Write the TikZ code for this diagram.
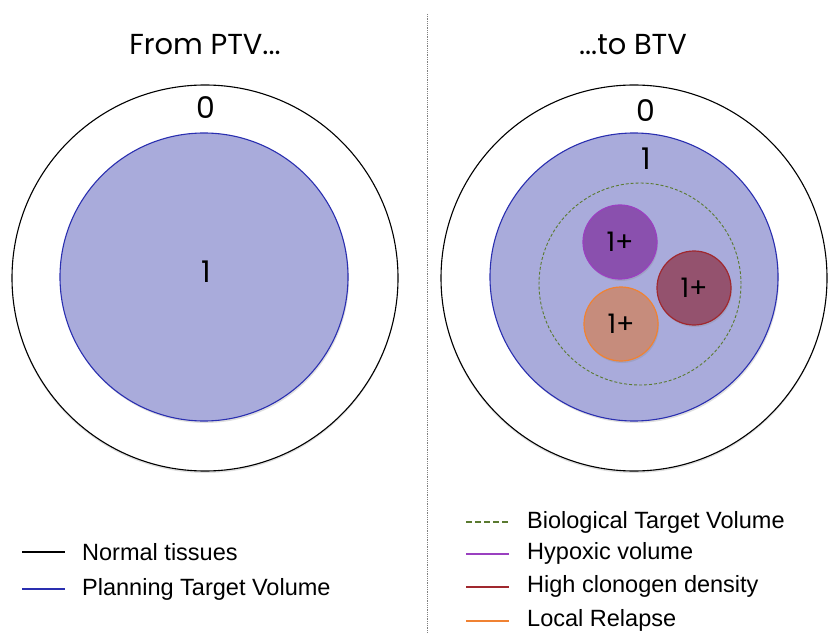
\documentclass[tikz,border=0pt]{standalone}
\usepackage{fontspec}
\setmainfont{Liberation Sans}
\newfontfamily\titlefont{Poppins}
\usetikzlibrary{shadows}
\definecolor{ptvfill}{HTML}{A9ABDB}
\definecolor{ptvline}{HTML}{2A2FB0}
\definecolor{btvline}{HTML}{5A7A30}
\definecolor{hypfill}{HTML}{8A50AE}
\definecolor{hypline}{HTML}{9A40C0}
\definecolor{clofill}{HTML}{94526E}
\definecolor{cloline}{HTML}{A0282E}
\definecolor{relfill}{HTML}{C68C7C}
\definecolor{relline}{HTML}{F08232}
\tikzset{
  outer/.style={circle, draw=black, line width=1.1bp, fill=white, minimum size=386bp, inner sep=0pt,
     drop shadow={shadow xshift=0bp, shadow yshift=-2bp, opacity=0.25}},
  ptv/.style={circle, draw=ptvline, line width=1.1bp, fill=ptvfill, minimum size=288bp, inner sep=0pt,
     drop shadow={shadow xshift=1bp, shadow yshift=-2bp, opacity=0.25}},
  btv/.style={circle, draw=btvline, dash pattern=on 3bp off 2bp, line width=0.9bp, minimum size=202bp, inner sep=0pt},
  sub/.style={circle, line width=1.2bp, minimum size=74bp, inner sep=0pt, font=\titlefont\fontsize{27}{30}\selectfont,
     drop shadow={shadow xshift=1bp, shadow yshift=-2bp, opacity=0.25}},
  title/.style={font=\titlefont\fontsize{29}{33}\selectfont},
  num/.style={font=\titlefont\fontsize{30}{34}\selectfont},
  leg/.style={font=\fontsize{23.6}{26}\selectfont, anchor=west, inner sep=0pt},
  legline/.style={line width=2.8bp}
}
\begin{document}
\begin{tikzpicture}[x=1bp,y=-1bp]
\useasboundingbox (0,0) rectangle (828,633);
% divider
\draw[gray, densely dotted, line width=0.8bp] (427,14) -- (427,632);
% titles
\node[title] (t1) at (205,45) {From PTV...};
\node[title] (t2) at (633,45) {...to BTV};
% left
\node[outer] (o1) at (205,278) {};
\node[ptv] (p1) at (204,277) {};
\node[num] (z1) at (206,108) {0};
\node[num] (u1) at (206,272) {1};
% right
\node[outer] (o2) at (634,278) {};
\node[ptv] (p2) at (634,277) {};
\node[btv] (b2) at (640,284) {};
\node[num] (z2) at (646,111) {0};
\node[num] (u2) at (646,159) {1};
\node[sub, draw=hypline, fill=hypfill] (h) at (620,242) {1+};
\node[sub, draw=cloline, fill=clofill] (c) at (694,288) {1+};
\node[sub, draw=relline, fill=relfill] (r) at (621,324) {1+};
% legend left
\coordinate (a1) at (22,552); \coordinate (a2) at (65,552);
\draw[legline, black] (a1) -- (a2);
\node[leg] (l1) at (82,552) {Normal tissues};
\coordinate (b1) at (22,589); \coordinate (b2) at (65,589);
\draw[legline, ptvline] (b1) -- (b2);
\node[leg] (l2) at (82,589) {Planning Target Volume};
% legend right
\coordinate (c1) at (466,522); \coordinate (c2) at (509,522);
\draw[legline, btvline, dash pattern=on 6bp off 3bp] (c1) -- (c2);
\node[leg] (l3) at (527,522) {Biological Target Volume};
\coordinate (d1) at (466,554); \coordinate (d2) at (509,554);
\draw[legline, hypline] (d1) -- (d2);
\node[leg] (l4) at (527,553) {Hypoxic volume};
\coordinate (e1) at (466,587); \coordinate (e2) at (509,587);
\draw[legline, cloline] (e1) -- (e2);
\node[leg] (l5) at (527,586) {High clonogen density};
\coordinate (f1) at (466,621); \coordinate (f2) at (509,621);
\draw[legline, relline] (f1) -- (f2);
\node[leg] (l6) at (527,620) {Local Relapse};
\end{tikzpicture}
\end{document}
